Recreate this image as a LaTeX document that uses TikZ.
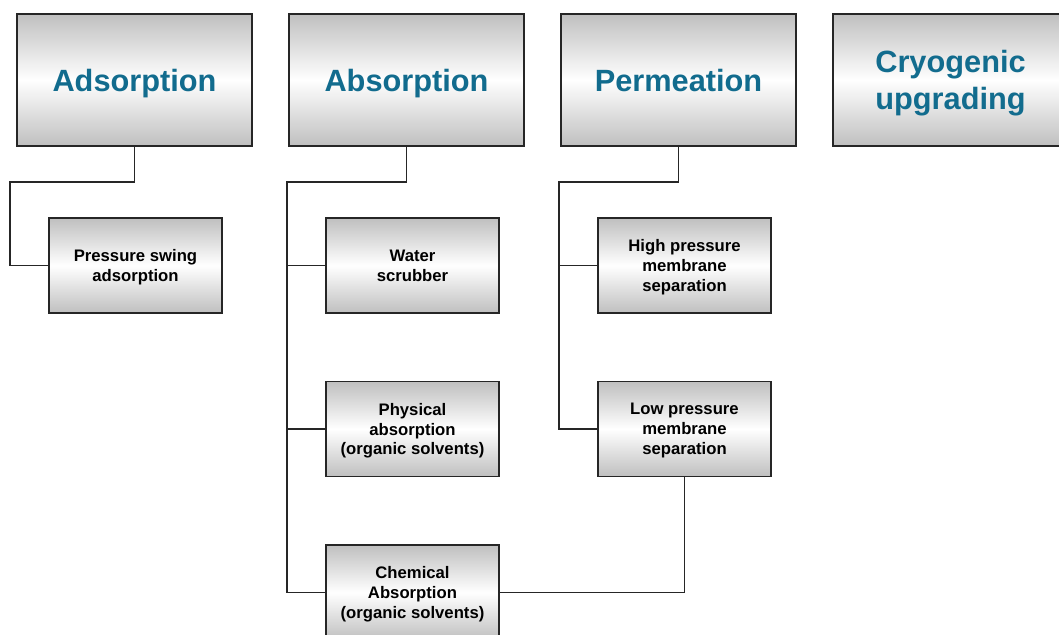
\documentclass[tikz,border=0pt]{standalone}
\usepackage{fontspec}
\setmainfont{Liberation Sans}
\definecolor{titleblue}{RGB}{18,108,142}
\tikzset{
  mainbox/.style={draw=black!85, line width=1.2pt, top color=black!25, bottom color=black!25,
    middle color=white, minimum width=4.7cm, minimum height=2.64cm, align=center,
    font=\fontsize{17.5}{21}\selectfont\bfseries, text=titleblue, text depth=0pt},
  subbox/.style={draw=black!85, line width=1.1pt, top color=black!25, bottom color=black!25,
    middle color=white, minimum width=3.46cm, minimum height=1.9cm, align=center,
    font=\fontsize{9.5}{11.3}\selectfont\bfseries, text depth=-0.8pt},
  link/.style={line width=0.8pt, black!85}
}
\begin{document}
\begin{tikzpicture}[x=0.02cm,y=-0.02cm]
  \clip (0,0) rectangle (1059,635);
  \fill[white] (0,0) rectangle (1059,635);

  \node[mainbox] (adsorp) at (134.5,80) {Adsorption};
  \node[mainbox] (absorp) at (406.5,80) {Absorption};
  \node[mainbox] (perm) at (678.5,80) {Permeation};
  \node[mainbox] (cryo) at (950.5,80) {Cryogenic\\upgrading};

  \node[subbox] (psa) at (135.5,265.5) {Pressure swing\\adsorption};
  \node[subbox] (water) at (412.5,265.5) {Water\\scrubber};
  \node[subbox] (phys) at (412.5,429) {Physical\\absorption\\(organic solvents)};
  \node[subbox] (chem) at (412.5,592.5) {Chemical\\Absorption\\(organic solvents)};
  \node[subbox] (highp) at (684.5,265.5) {High pressure\\membrane\\separation};
  \node[subbox] (lowp) at (684.5,429) {Low pressure\\membrane\\separation};

  \coordinate (adsfork) at (10,182);
  \coordinate (absfork) at (287,182);
  \coordinate (permfork) at (559,182);

  % trees below each method
  \draw[link] (adsorp.south) |- (adsfork) |- (psa.west);
  \draw[link] (absorp.south) |- (absfork) |- (chem.west);
  \draw[link] (absfork |- water.west) -- (water.west);
  \draw[link] (absfork |- phys.west) -- (phys.west);
  \draw[link] (perm.south) |- (permfork) |- (lowp.west);
  \draw[link] (permfork |- highp.west) -- (highp.west);
  \draw[link] (chem.east) -| (lowp.south);
\end{tikzpicture}
\end{document}
